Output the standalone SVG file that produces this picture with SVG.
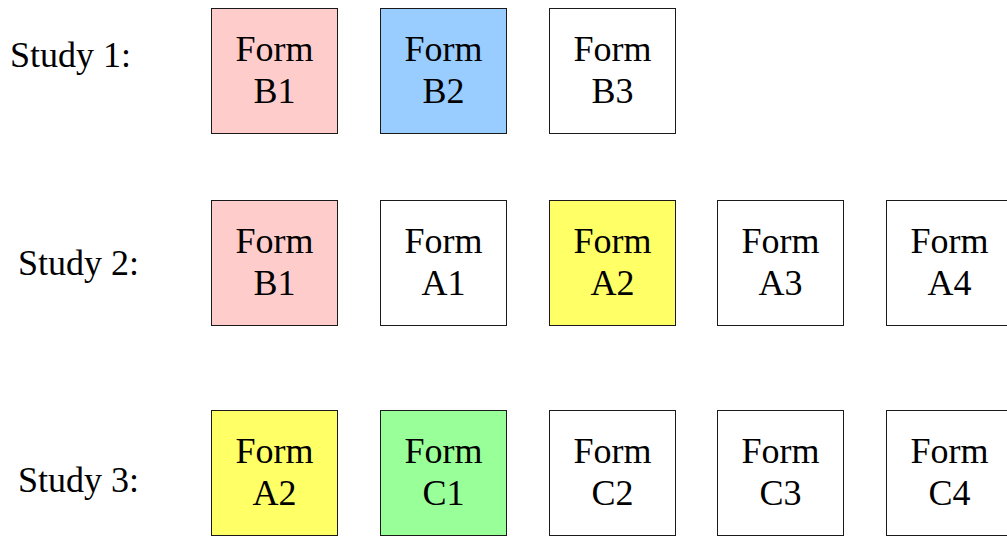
<svg xmlns="http://www.w3.org/2000/svg" width="1007" height="536" viewBox="0 0 1007 536">
<style>
rect{stroke:#1a1a1a;stroke-width:1}
text{font-family:"Liberation Serif","Times New Roman",serif;font-size:36px;fill:#000}
.c{text-anchor:middle}
.w{fill:#fff}.p{fill:#ffcccc}.b{fill:#99ccff}.y{fill:#ffff66}.g{fill:#99ff99}
</style>
<rect width="1007" height="536" fill="#fff" style="stroke:none"/>
<g id="labels">
<text x="10" y="67">Study 1:</text>
<text x="18" y="275">Study 2:</text>
<text x="18" y="492">Study 3:</text>
</g>
<g id="connectors"/>
<g id="s1b1"><rect class="p" x="211.5" y="8.5" width="126" height="125"/><text class="c" x="274.5" y="61">Form</text><text class="c" x="274.5" y="103">B1</text></g>
<g id="s1b2"><rect class="b" x="380.5" y="8.5" width="126" height="125"/><text class="c" x="443.5" y="61">Form</text><text class="c" x="443.5" y="103">B2</text></g>
<g id="s1b3"><rect class="w" x="549.5" y="8.5" width="126" height="125"/><text class="c" x="612.5" y="61">Form</text><text class="c" x="612.5" y="103">B3</text></g>
<g id="s2b1"><rect class="p" x="211.5" y="200.5" width="126" height="125"/><text class="c" x="274.5" y="253">Form</text><text class="c" x="274.5" y="295">B1</text></g>
<g id="s2a1"><rect class="w" x="380.5" y="200.5" width="126" height="125"/><text class="c" x="443.5" y="253">Form</text><text class="c" x="443.5" y="295">A1</text></g>
<g id="s2a2"><rect class="y" x="549.5" y="200.5" width="126" height="125"/><text class="c" x="612.5" y="253">Form</text><text class="c" x="612.5" y="295">A2</text></g>
<g id="s2a3"><rect class="w" x="717.5" y="200.5" width="126" height="125"/><text class="c" x="780.5" y="253">Form</text><text class="c" x="780.5" y="295">A3</text></g>
<g id="s2a4"><rect class="w" x="886.5" y="200.5" width="126" height="125"/><text class="c" x="949.5" y="253">Form</text><text class="c" x="949.5" y="295">A4</text></g>
<g id="s3a2"><rect class="y" x="211.5" y="410.5" width="126" height="125"/><text class="c" x="274.5" y="463">Form</text><text class="c" x="274.5" y="505">A2</text></g>
<g id="s3c1"><rect class="g" x="380.5" y="410.5" width="126" height="125"/><text class="c" x="443.5" y="463">Form</text><text class="c" x="443.5" y="505">C1</text></g>
<g id="s3c2"><rect class="w" x="549.5" y="410.5" width="126" height="125"/><text class="c" x="612.5" y="463">Form</text><text class="c" x="612.5" y="505">C2</text></g>
<g id="s3c3"><rect class="w" x="717.5" y="410.5" width="126" height="125"/><text class="c" x="780.5" y="463">Form</text><text class="c" x="780.5" y="505">C3</text></g>
<g id="s3c4"><rect class="w" x="886.5" y="410.5" width="126" height="125"/><text class="c" x="949.5" y="463">Form</text><text class="c" x="949.5" y="505">C4</text></g>
</svg>
